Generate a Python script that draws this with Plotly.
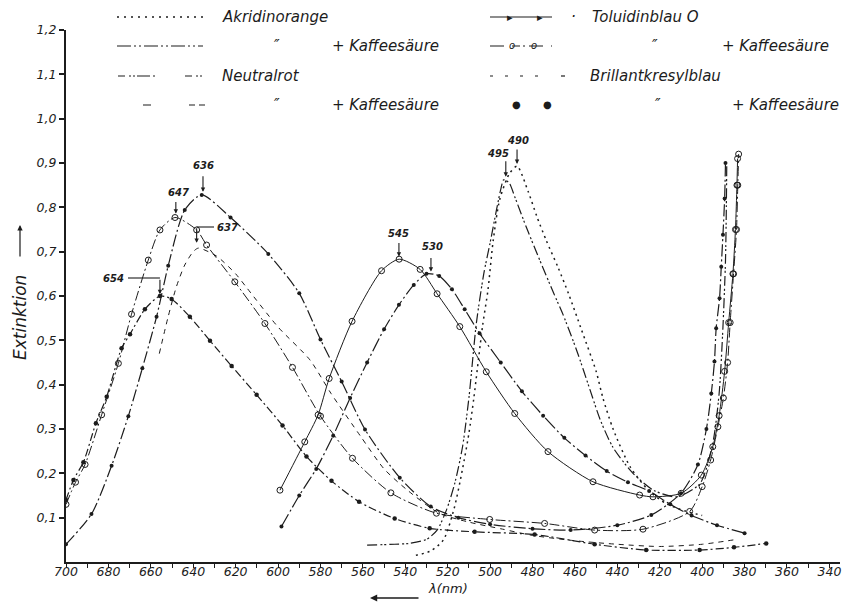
import plotly.graph_objects as go

# ---------------- data (wavelength in nm, Extinktion) ----------------
# Toluidinblau O  (peak 636 nm)
tb_lam = [700, 688, 678.5, 670.6, 664, 657.3, 651.8, 644, 636, 622.4, 604.6, 590, 580, 570, 559,
          542.6, 528, 515, 500, 480, 462, 440, 424, 410, 402, 398, 395.7, 394.2, 393.4, 391.8,
          391, 390.2, 389.4, 389]
tb_ext = [0.04, 0.108, 0.217, 0.329, 0.437, 0.553, 0.668, 0.794, 0.828, 0.777, 0.695, 0.606, 0.502,
          0.407, 0.299, 0.19, 0.125, 0.10, 0.085, 0.075, 0.072, 0.083, 0.106, 0.155, 0.22, 0.30,
          0.38, 0.452, 0.527, 0.595, 0.666, 0.738, 0.82, 0.90]
# Toluidinblau O + Kaffeesäure  (peak 647 nm)
tbk_lam = [700, 695.5, 691, 683.2, 675.3, 669.1, 661.2, 655.7, 648.6, 638.4, 633.7, 620.4, 606.2,
           593.2, 580, 564.9, 546.8, 525.3, 500.2, 474.3, 450.7, 427.9, 405.9, 400, 396, 392.6,
           390, 388, 386.8, 385.2, 383.8, 383.2, 382.8]
tbk_ext = [0.13, 0.18, 0.22, 0.332, 0.448, 0.559, 0.681, 0.749, 0.777, 0.749, 0.715, 0.632, 0.538,
           0.439, 0.329, 0.234, 0.156, 0.11, 0.096, 0.087, 0.072, 0.074, 0.114, 0.17, 0.23, 0.305,
           0.37, 0.45, 0.54, 0.65, 0.75, 0.85, 0.92]
# Brillantkresylblau  (peak 637 nm)
bkb_lam = [656, 652, 648, 644, 640, 637.6, 629, 620, 615, 600, 585, 575, 561, 550, 539, 524, 510,
           495, 480, 460, 440, 420, 400, 385]
bkb_ext = [0.47, 0.55, 0.62, 0.67, 0.70, 0.708, 0.69, 0.65, 0.62, 0.53, 0.456, 0.38, 0.283, 0.21,
           0.162, 0.11, 0.09, 0.075, 0.06, 0.048, 0.04, 0.035, 0.04, 0.05]
# Brillantkresylblau + Kaffeesäure  (peak 654 nm)
bkbk_lam = [700, 696.5, 691.8, 685.9, 680.8, 673.8, 669.8, 662.8, 655.7, 650.2, 641.6, 632.1, 621.9,
            610.1, 597.9, 586.6, 574.8, 561.8, 545, 528.5, 507.3, 479, 450.7, 426.4, 401.2, 385, 369.8]
bkbk_ext = [0.14, 0.185, 0.225, 0.313, 0.373, 0.482, 0.514, 0.57, 0.60, 0.593, 0.553, 0.499, 0.442,
            0.377, 0.308, 0.238, 0.183, 0.136, 0.098, 0.076, 0.068, 0.062, 0.04, 0.027, 0.027, 0.033, 0.042]
# Neutralrot  (peak 530 nm)
nr_lam = [598.4, 590, 582, 574, 566, 558, 550, 543, 536, 530, 524, 518, 512, 505, 495, 485, 475,
          465, 455, 445, 435, 425, 415, 405, 393, 380]
nr_ext = [0.08, 0.15, 0.21, 0.285, 0.37, 0.45, 0.525, 0.58, 0.625, 0.65, 0.645, 0.615, 0.57, 0.516,
          0.45, 0.385, 0.33, 0.28, 0.24, 0.205, 0.18, 0.16, 0.13, 0.105, 0.083, 0.065]
# Neutralrot + Kaffeesäure  (peak 545 nm)
nrk_lam = [599.1, 587.4, 581.1, 575.9, 565.1, 551.2, 542.9, 533, 525, 514.3, 501.8, 488.4, 472.7,
           451.5, 429.5, 423.2, 409.9, 400.4, 395, 392, 389.4, 387.5, 385.5, 384.3, 383.6, 383.3]
nrk_ext = [0.162, 0.271, 0.332, 0.414, 0.543, 0.657, 0.683, 0.66, 0.605, 0.531, 0.429, 0.335, 0.249,
           0.181, 0.151, 0.147, 0.155, 0.196, 0.26, 0.33, 0.43, 0.54, 0.65, 0.75, 0.85, 0.91]
# Akridinorange + Kaffeesäure  (peak 495 nm)
aok_lam = [558, 545, 538, 530, 525, 520.6, 516.7, 513, 510, 506.5, 503, 500, 497, 495, 493.6, 491,
           488.4, 483, 476.6, 470, 465.6, 459, 453, 448, 442, 432.6, 423, 412, 401, 395, 392, 390.2,
           389, 388.6, 388.4]
aok_ext = [0.038, 0.04, 0.042, 0.051, 0.072, 0.117, 0.177, 0.26, 0.37, 0.538, 0.65, 0.72, 0.794, 0.84,
           0.862, 0.855, 0.824, 0.756, 0.681, 0.606, 0.558, 0.475, 0.39, 0.32, 0.258, 0.2, 0.162,
           0.147, 0.177, 0.268, 0.38, 0.53, 0.68, 0.80, 0.90]
# Akridinorange  (peak 490 nm)
ao_lam = [535, 528, 522, 517, 513, 510, 507.7, 503.6, 501, 498.6, 495.5, 491, 487.3, 482, 478, 473.5,
          468, 463, 457, 450, 446.8, 442, 434, 425, 417, 408, 400]
ao_ext = [0.015, 0.025, 0.05, 0.12, 0.21, 0.29, 0.369, 0.531, 0.614, 0.723, 0.817, 0.875, 0.893, 0.835,
          0.78, 0.725, 0.665, 0.605, 0.525, 0.43, 0.37, 0.30, 0.215, 0.16, 0.132, 0.115, 0.105]

# peak labels: (text, wavelength of arrow, Extinktion of arrow tip)
peak_text = ["654", "647", "636", "637", "545", "530", "495", "490"]
peak_lam = [655.7, 648.2, 635.4, 638.4, 543.0, 527.9, 492.6, 487.3]
peak_ext = [0.604, 0.786, 0.835, 0.720, 0.689, 0.655, 0.869, 0.898]

x_ticks = list(range(340, 701, 10))
y_ticks = [0.1, 0.2, 0.3, 0.4, 0.5, 0.6, 0.7, 0.8, 0.9, 1.0, 1.1, 1.2]
y_tick_text = ["0,1", "0,2", "0,3", "0,4", "0,5", "0,6", "0,7", "0,8", "0,9", "1,0", "1,1", "1,2"]

# ---------------- layout geometry ----------------
# the page body adds an 8 px margin; the figure is shrunk by that amount and all
# reference pixel positions below are shifted by OFF.
OFF = 8
WIDTH, HEIGHT = 850 - OFF, 603 - OFF
L, R, T, B = 66 - OFF, 10, 30 - OFF, 41
PW, PH = WIDTH - L - R, HEIGHT - T - B
X_LEFT, X_RIGHT = 700, 335
Y_MIN, Y_MAX = 0.0, 1.2
INK = "#1c1c1c"
FONT = "DejaVu Sans"


def px_x(px):
    return (px - OFF - L) / PW


def px_y(py):
    return (HEIGHT - B - (py - OFF)) / PH


def lam_at(px):
    return X_LEFT - px_x(px) * (X_LEFT - X_RIGHT)


def ext_at(py):
    return Y_MIN + px_y(py) * (Y_MAX - Y_MIN)


fig = go.Figure()

dot_m = dict(symbol="circle", size=4, color=INK)
open_m = dict(symbol="circle-open", size=6, color=INK, line=dict(width=1, color=INK))


def curve(lam, ext, dash, marker=None, width=1.2):
    fig.add_trace(go.Scatter(
        x=lam, y=ext,
        mode="lines+markers" if marker else "lines",
        line=dict(color=INK, width=width, dash=dash, shape="spline", smoothing=0.7),
        marker=marker if marker else None,
        hoverinfo="skip", showlegend=False))


curve(tb_lam, tb_ext, "12px,3px,2px,3px", dot_m)
curve(tbk_lam, tbk_ext, "10px,3px,2px,3px", open_m, 1.0)
curve(bkb_lam, bkb_ext, "5px,5px", None, 1.0)
curve(bkbk_lam, bkbk_ext, "8px,3px,2px,3px", dict(symbol="circle", size=4.5, color=INK))
curve(nr_lam, nr_ext, "14px,3px,2px,3px", dot_m)
curve(nrk_lam, nrk_ext, "solid", open_m, 1.0)
curve(aok_lam, aok_ext, "10px,3px,2px,2px,2px,3px", None)
curve(ao_lam, ao_ext, "2px,4px", None, 1.5)

annotations = []
shapes = []


def text_px(txt, px, py, size=15, anchor="left"):
    annotations.append(dict(text="<i>%s</i>" % txt, x=px_x(px), y=px_y(py), xref="paper", yref="paper",
                            showarrow=False, xanchor=anchor, yanchor="middle",
                            font=dict(family=FONT, size=size, color=INK)))


def line_px(x0, x1, py, dash="solid", width=1.2):
    shapes.append(dict(type="line", xref="paper", yref="paper", x0=px_x(x0), x1=px_x(x1),
                       y0=px_y(py), y1=px_y(py), line=dict(color=INK, width=width, dash=dash)))


# ---------------- custom legend ----------------
rows = [17, 46, 76, 105]
# column 1
line_px(117, 203, rows[0], "2px,5px", 1.5)
text_px("Akridinorange", 220, rows[0])
line_px(117, 203, rows[1], "14px,3px,2px,3px,2px,3px")
text_px("″", 277, rows[1], anchor="center")
text_px("+ Kaffeesäure", 330, rows[1])
line_px(118, 203, rows[2], "7px,4px,2px,2px,2px,2px,13px,3px,2px,30px")
text_px("Neutralrot", 220, rows[2])
line_px(143, 205, rows[3], "8px,38px,6px,4px,6px")
text_px("″", 277, rows[3], anchor="center")
text_px("+ Kaffeesäure", 330, rows[3])
# column 2
line_px(490, 552, rows[0])
for mx in (510, 540):
    text_px("▸", mx, rows[0], size=11, anchor="center")
text_px("·", 573, rows[0], anchor="center")
text_px("Toluidinblau O", 590, rows[0])
line_px(490, 552, rows[1], "14px,8px,8px,3px,2px,4px")
for mx in (512, 534):
    text_px("o", mx, rows[1] - 1, size=10, anchor="center")
text_px("″", 655, rows[1], anchor="center")
text_px("+ Kaffeesäure", 720, rows[1])
line_px(490, 540, rows[2], "3px,12px")
line_px(561, 565, rows[2])
text_px("Brillantkresylblau", 588, rows[2])
for mx in (517, 547):
    text_px("●", mx, rows[3], size=10, anchor="center")
text_px("″", 658, rows[3], anchor="center")
text_px("+ Kaffeesäure", 730, rows[3])

# ---------------- peak labels with arrows ----------------
label_pos = {"654": (113, 278), "647": (178, 192), "636": (203, 165), "637": (227, 227),
             "545": (398, 233), "530": (432, 246), "495": (498, 153), "490": (518, 140)}
tail_len = {"654": 16, "647": 13, "636": 17, "637": 16, "545": 15, "530": 15, "495": 17, "490": 16}
for t, lx, ly in zip(peak_text, peak_lam, peak_ext):
    annotations.append(dict(x=lx, y=ly, xref="x", yref="y", text="", showarrow=True,
                            ax=0, ay=-tail_len[t], arrowhead=2, arrowsize=0.8, arrowwidth=1.1,
                            arrowcolor=INK, standoff=0))
    px, py = label_pos[t]
    annotations.append(dict(x=lam_at(px), y=ext_at(py), xref="x", yref="y",
                            text="<b><i>%s</i></b>" % t, showarrow=False,
                            font=dict(family=FONT, size=10, color=INK)))
# elbow segments of the 654 and 637 pointers
shapes.append(dict(type="line", xref="x", yref="y", x0=lam_at(128), x1=peak_lam[0],
                   y0=ext_at(278), y1=ext_at(278), line=dict(color=INK, width=1.1)))
shapes.append(dict(type="line", xref="x", yref="y", x0=lam_at(214), x1=peak_lam[3],
                   y0=ext_at(227), y1=ext_at(227), line=dict(color=INK, width=1.1)))

# ---------------- axis titles ----------------
annotations.append(dict(text="<i>Extinktion</i>", x=px_x(20), y=px_y(318), xref="paper", yref="paper",
                        showarrow=False, textangle=-90, xanchor="center", yanchor="middle",
                        font=dict(family=FONT, size=17, color=INK)))
annotations.append(dict(x=px_x(20), y=px_y(225), xref="paper", yref="paper", text="", showarrow=True,
                        ax=0, ay=33, arrowhead=2, arrowsize=0.9, arrowwidth=1.2, arrowcolor=INK, standoff=0))
annotations.append(dict(text="<i>λ(nm)</i>", x=px_x(426), y=px_y(598), xref="paper", yref="paper",
                        showarrow=False, xanchor="left", font=dict(family=FONT, size=13, color=INK)))
annotations.append(dict(x=px_x(370), y=px_y(598), xref="paper", yref="paper", text="", showarrow=True,
                        ax=50, ay=0, arrowhead=2, arrowsize=0.9, arrowwidth=1.6, arrowcolor=INK, standoff=0))

fig.update_layout(
    width=WIDTH, height=HEIGHT,
    margin=dict(l=L, r=R, t=T, b=B),
    paper_bgcolor="white", plot_bgcolor="white",
    showlegend=False,
    annotations=annotations, shapes=shapes,
    font=dict(family=FONT, color=INK),
    xaxis=dict(range=[X_LEFT, X_RIGHT], showgrid=False, zeroline=False, showline=True,
               linecolor=INK, linewidth=1.8, ticks="outside", ticklen=4, tickwidth=1.3,
               tickcolor=INK, tickvals=x_ticks, ticklabelstandoff=-7,
               ticktext=[("<i>%d</i>" % v) if v % 20 == 0 else "" for v in x_ticks],
               tickfont=dict(family=FONT, size=12.5, color=INK)),
    yaxis=dict(range=[Y_MIN, Y_MAX], showgrid=False, zeroline=False, showline=True,
               linecolor=INK, linewidth=2, ticks="outside", ticklen=5, tickwidth=1.5,
               tickcolor=INK, tickvals=y_ticks, ticktext=["<i>%s</i>" % s for s in y_tick_text],
               tickfont=dict(family=FONT, size=12.5, color=INK)),
)

fig.write_html("out.html")
